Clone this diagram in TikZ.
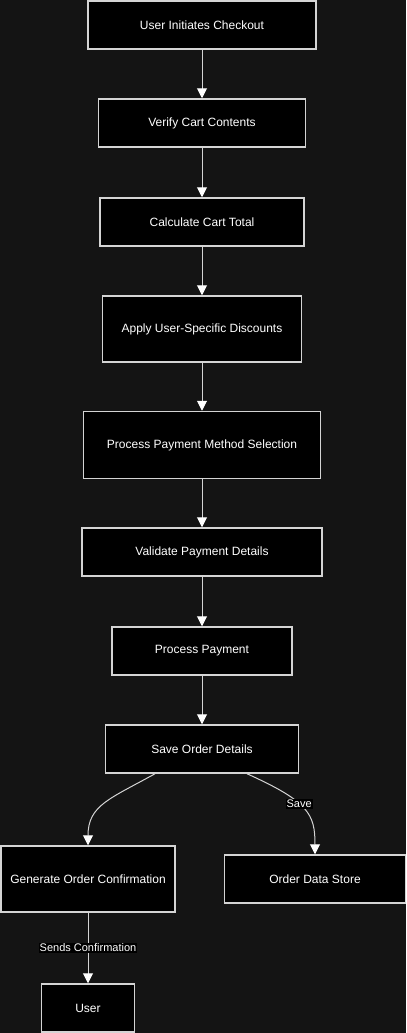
\documentclass[tikz,border=0pt]{standalone}
\usepackage{fontspec}
\setmainfont{Liberation Sans}
\usetikzlibrary{arrows.meta,positioning}
\definecolor{bgcol}{HTML}{141414}
\definecolor{edgecol}{HTML}{D4D4D4}
\tikzstyle{box} = [draw=edgecol, fill=black, line width=1.5pt, text=white, font=\fontsize{12}{14}\selectfont, minimum height=48pt, inner sep=0pt]
\tikzstyle{arrow} = [line width=1pt, draw=edgecol, -{Triangle[width=10pt,length=10pt,color=white]}]
\tikzstyle{lbl} = [fill=black, text=white, font=\fontsize{11}{13}\selectfont, inner sep=1pt]

\begin{document}
\begin{tikzpicture}[x=1pt,y=-1pt]
\fill[bgcol] (0,0) rectangle (406,1033);

\node[box, minimum width=228pt] (check) at (202,25) {User Initiates Checkout};
\node[box, minimum width=207pt] (verify) at (202,123) {Verify Cart Contents};
\node[box, minimum width=204pt] (total) at (202,222) {Calculate Cart Total};
\node[box, minimum width=199pt, minimum height=66pt] (discount) at (202,329) {Apply User-Specific Discounts};
\node[box, minimum width=237pt, minimum height=67pt] (method) at (202,445) {Process Payment Method Selection};
\node[box, minimum width=240pt] (validate) at (202,552) {Validate Payment Details};
\node[box, minimum width=180pt] (pay) at (202,651) {Process Payment};
\node[box, minimum width=193pt] (save) at (202,749) {Save Order Details};
\node[box, minimum width=174pt, minimum height=66pt] (confirm) at (88,879) {Generate Order Confirmation};
\node[box, minimum width=181pt] (store) at (315,879) {Order Data Store};
\node[box, minimum width=93pt] (user) at (88,1008) {User};

\draw [arrow] (check) -- (verify);
\draw [arrow] (verify) -- (total);
\draw [arrow] (total) -- (discount);
\draw [arrow] (discount) -- (method);
\draw [arrow] (method) -- (validate);
\draw [arrow] (validate) -- (pay);
\draw [arrow] (pay) -- (save);
\draw [arrow] ([xshift=-47pt]save.south) .. controls +(-45,25) and +(0,-40) .. (confirm.north);
\draw [arrow] ([xshift=45pt]save.south) .. controls +(62,28) and +(0,-40) .. node[lbl, pos=0.42] {Save} (store.north);
\draw [arrow] (confirm) -- node[lbl] {Sends Confirmation} (user);
\end{tikzpicture}
\end{document}
